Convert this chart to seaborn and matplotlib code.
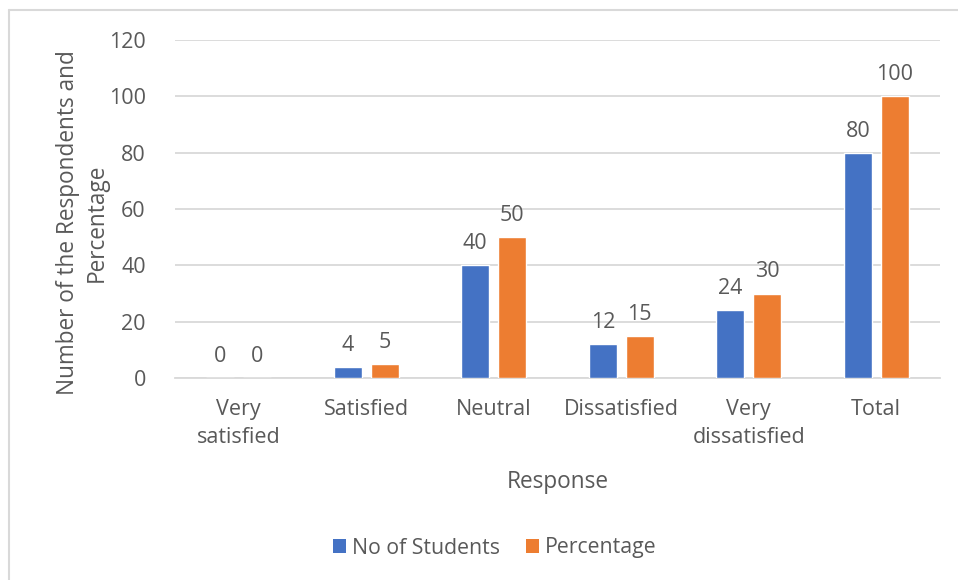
import matplotlib
matplotlib.use("Agg")
import matplotlib.pyplot as plt
from matplotlib.lines import Line2D
from matplotlib.patches import Patch
import seaborn as sns
import pandas as pd

categories = ["Very\nsatisfied", "Satisfied", "Neutral", "Dissatisfied", "Very\ndissatisfied", "Total"]
students = [0, 4, 40, 12, 24, 80]
percentage = [0, 5, 50, 15, 30, 100]
series_names = ["No of Students", "Percentage"]
y_ticks = [0, 20, 40, 60, 80, 100, 120]

colors = ["#4472C4", "#ED7D31"]
text_color = "#595959"
grid_color = "#D9D9D9"

sns.set_theme(style="white")
plt.rcParams["font.family"] = ["Open Sans", "DejaVu Sans"]

df = pd.DataFrame({
    "Response": categories * 2,
    "Value": students + percentage,
    "Series": [series_names[0]] * len(categories) + [series_names[1]] * len(categories),
})

W, H = 958, 580
fig = plt.figure(figsize=(W / 100, H / 100), dpi=100)
ax = fig.add_axes([175 / W, 1 - 378 / H, (940 - 175) / W, (378 - 40) / H])

sns.barplot(data=df, x="Response", y="Value", hue="Series", palette=colors,
            order=categories, hue_order=series_names, width=0.58, gap=0.24,
            saturation=1, legend=False, ax=ax, zorder=3)

for container in ax.containers:
    ax.bar_label(container, fmt="%g", padding=8, fontsize=15.5, color=text_color)

ax.set_ylim(0, 120)
ax.set_yticks(y_ticks)
ax.set_xlim(-0.5, len(categories) - 0.5)
ax.yaxis.grid(True, color=grid_color, linewidth=1.3, zorder=0)
ax.set_axisbelow(True)
for side in ["left", "right", "top"]:
    ax.spines[side].set_visible(False)
ax.spines["bottom"].set_color(grid_color)
ax.spines["bottom"].set_linewidth(1.3)
ax.tick_params(axis="both", length=0, labelsize=15.5, labelcolor=text_color)
ax.tick_params(axis="y", pad=21)
ax.tick_params(axis="x", pad=15)
for lbl in ax.get_xticklabels():
    lbl.set_linespacing(1.42)

ax.set_xlabel("Response", fontsize=16.3, color=text_color, labelpad=16)
ax.set_ylabel("Number of the Respondents and\nPercentage", fontsize=16.3,
              color=text_color, linespacing=1.25)
ax.yaxis.set_label_coords(-0.087, 0.46)

handles = [Patch(facecolor=c, edgecolor="none") for c in colors]
fig.legend(handles, series_names, loc="center", bbox_to_anchor=(495 / W, 1 - 548 / H),
           ncol=2, frameon=False, fontsize=15.3, handlelength=0.6, handleheight=0.6,
           handletextpad=0.3, columnspacing=1.2, labelcolor=text_color)

# chart-area frame
fig.add_artist(Line2D([9 / W, 9 / W], [0, 1 - 10 / H], transform=fig.transFigure,
                      color=grid_color, linewidth=1.5))
fig.add_artist(Line2D([9 / W, 1], [1 - 10 / H, 1 - 10 / H], transform=fig.transFigure,
                      color=grid_color, linewidth=1.5))

fig.savefig("out.png", dpi=100, facecolor="white")
